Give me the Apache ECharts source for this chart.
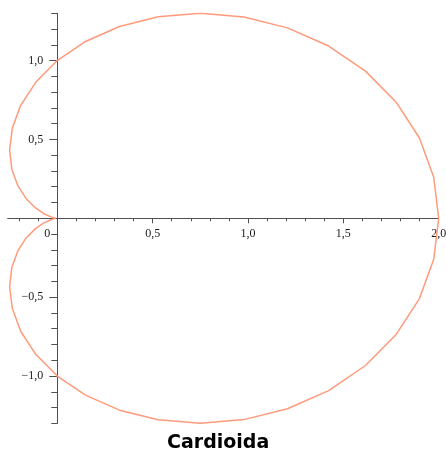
<!DOCTYPE html>
<html><head><meta charset="utf-8">
<script src="https://cdn.jsdelivr.net/npm/echarts@6/dist/echarts.min.js"></script>
<style>html,body{margin:0;padding:0;background:#fff}#c{width:446px;height:451px}</style>
</head><body><div id="c"></div>
<script>
// Curve points (x, y), traced counter-clockwise from (2,0)
const curveX = [2, 1.974, 1.899, 1.777, 1.616, 1.423, 1.207, 0.979, 0.75, 0.529, 0.326, 0.148, 0,
  -0.113, -0.192, -0.236, -0.25, -0.238, -0.207, -0.164, -0.116, -0.070, -0.033, -0.008, 0,
  -0.008, -0.033, -0.070, -0.116, -0.164, -0.207, -0.238, -0.25, -0.236, -0.192, -0.113, 0,
  0.148, 0.326, 0.529, 0.75, 0.979, 1.207, 1.423, 1.616, 1.777, 1.899, 1.974, 2];
const curveY = [0, 0.260, 0.509, 0.736, 0.933, 1.092, 1.207, 1.276, 1.299, 1.277, 1.216, 1.121, 1,
  0.862, 0.716, 0.570, 0.433, 0.310, 0.207, 0.126, 0.067, 0.029, 0.009, 0.001, 0,
  -0.001, -0.009, -0.029, -0.067, -0.126, -0.207, -0.310, -0.433, -0.570, -0.716, -0.862, -1,
  -1.121, -1.216, -1.277, -1.299, -1.276, -1.207, -1.092, -0.933, -0.736, -0.509, -0.260, 0];

const xMinorTicks = [-0.2, -0.1, 0.1, 0.2, 0.3, 0.4, 0.6, 0.7, 0.8, 0.9, 1.1, 1.2, 1.3, 1.4, 1.6, 1.7, 1.8, 1.9];
const xMajorTicks = [0.5, 1.0, 1.5, 2.0];
const xLabelValues = [0, 0.5, 1.0, 1.5, 2.0];
const xLabelTexts = ['0', '0,5', '1,0', '1,5', '2,0'];
const yMinorTicks = [-1.3, -1.2, -1.1, -0.9, -0.8, -0.7, -0.6, -0.4, -0.3, -0.2, -0.1,
  0.1, 0.2, 0.3, 0.4, 0.6, 0.7, 0.8, 0.9, 1.1, 1.2, 1.3];
const yMajorTicks = [-1.0, -0.5, 0.5, 1.0];
const yLabelTexts = ['\u22121,0', '\u22120,5', '0,5', '1,0'];
const titleText = 'Cardioida';

const X_MIN = -0.26, X_MAX = 2.0, Y_MIN = -1.3, Y_MAX = 1.3;
const W = 446, H = 451;
const GRID = { left: 7.7, right: 7.3, top: 13.2, bottom: 27.6 };
const gridW = W - GRID.left - GRID.right, gridH = H - GRID.top - GRID.bottom;
// distance from the grid edge to the zero lines (axes cross at the origin)
const xZeroOffset = -(0 - Y_MIN) / (Y_MAX - Y_MIN) * gridH;
const yZeroOffset = -(0 - X_MIN) / (X_MAX - X_MIN) * gridW;
const X_LABEL_GAP = 10, Y_LABEL_GAP = 14;

const AXIS_COLOR = '#505050';
const LABEL_FONT = { fontFamily: 'Liberation Serif', fontSize: 12, color: '#1a1a1a' };

function findLabel(values, texts, v) {
  const i = values.findIndex(t => Math.abs(t - v) < 1e-9);
  return i < 0 ? '' : texts[i];
}

const chart = echarts.init(document.getElementById('c'), null, { renderer: 'canvas' });
chart.setOption({
  animation: false,
  backgroundColor: '#ffffff',
  title: {
    text: titleText, left: 167, top: 434, padding: 0,
    textStyle: { fontFamily: 'DejaVu Sans', fontWeight: 'bold', fontSize: 19, color: '#000', lineHeight: 19 }
  },
  grid: Object.assign({ containLabel: false, outerBoundsMode: 'none' }, GRID),
  xAxis: [
    {
      type: 'value', min: X_MIN, max: X_MAX, position: 'bottom',
      axisLine: { show: true, onZero: true, lineStyle: { color: AXIS_COLOR, width: 1 } },
      axisTick: { show: true, length: 5, customValues: xMajorTicks, lineStyle: { color: AXIS_COLOR } },
      axisLabel: {
        show: true, margin: X_LABEL_GAP + xZeroOffset, customValues: xLabelValues, ...LABEL_FONT,
        formatter: v => {
          const s = findLabel(xLabelValues, xLabelTexts, v);
          return Math.abs(v) < 1e-9 ? '{z|' + s + '}' : s;
        },
        rich: { z: { ...LABEL_FONT, padding: [0, 20, 0, 0] } }
      },
      splitLine: { show: false }
    },
    {
      type: 'value', min: X_MIN, max: X_MAX, position: 'bottom', offset: xZeroOffset,
      axisLine: { show: false, onZero: false },
      axisTick: { show: true, length: 3, customValues: xMinorTicks, lineStyle: { color: AXIS_COLOR } },
      axisLabel: { show: false },
      splitLine: { show: false }
    }
  ],
  yAxis: [
    {
      type: 'value', min: Y_MIN, max: Y_MAX, position: 'left',
      axisLine: { show: true, onZero: true, lineStyle: { color: AXIS_COLOR, width: 1 } },
      axisTick: { show: true, length: 8, customValues: yMajorTicks, lineStyle: { color: AXIS_COLOR } },
      axisLabel: {
        show: true, margin: Y_LABEL_GAP + yZeroOffset, customValues: yMajorTicks, ...LABEL_FONT,
        formatter: v => findLabel(yMajorTicks, yLabelTexts, v)
      },
      splitLine: { show: false }
    },
    {
      type: 'value', min: Y_MIN, max: Y_MAX, position: 'left', offset: yZeroOffset,
      axisLine: { show: false, onZero: false },
      axisTick: { show: true, length: 6, customValues: yMinorTicks, lineStyle: { color: AXIS_COLOR } },
      axisLabel: { show: false },
      splitLine: { show: false }
    }
  ],
  series: [{
    type: 'line', xAxisIndex: 0, yAxisIndex: 0,
    data: curveX.map((x, i) => [x, curveY[i]]),
    showSymbol: false, smooth: false, silent: true,
    lineStyle: { color: '#ff9a7c', width: 1.5 }
  }]
});
</script>
</body></html>
